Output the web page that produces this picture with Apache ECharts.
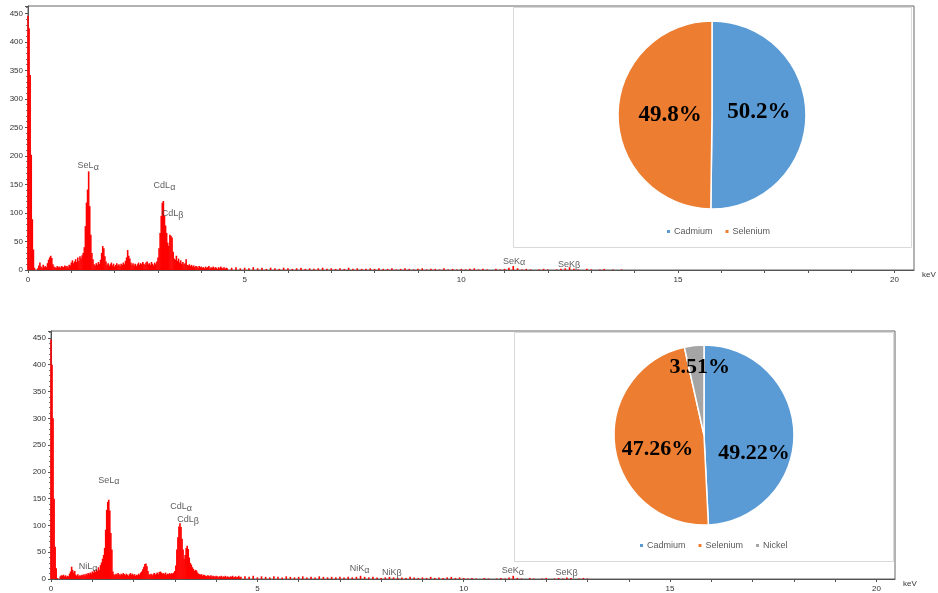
<!DOCTYPE html>
<html>
<head>
<meta charset="utf-8">
<title>EDS spectra</title>
<script src="https://cdn.jsdelivr.net/npm/echarts@6.0.0/dist/echarts.min.js"></script>
<style>
  html, body { margin: 0; padding: 0; background: #fff; }
  #chart { width: 938px; height: 593px; }
</style>
</head>
<body>
<div id="chart"></div>
<script>
// channel widths (keV)
var mainStep = 0.025
var tailStart = 4.7
var tailStep = 0.1

// counts, 0 - 4.6 keV, one value per 0.025 keV
var topMainCounts = [
  446, 424, 342, 202, 89, 36, 4, 0, 0, 3, 8, 13, 6, 4, 9, 5, 7, 5, 12, 18,
  22, 25, 21, 10, 6, 5, 4, 7, 5, 6, 4, 7, 6, 5, 8, 6, 7, 5, 9, 8,
  13, 17, 12, 15, 19, 14, 22, 16, 24, 20, 26, 30, 40, 77, 118, 141, 173, 112, 62, 30,
  19, 10, 8, 12, 9, 14, 11, 18, 30, 42, 38, 24, 15, 9, 12, 7, 10, 13, 8, 11,
  6, 9, 12, 8, 10, 7, 11, 9, 13, 10, 16, 22, 35, 25, 20, 13, 9, 12, 8, 11,
  7, 10, 13, 9, 12, 10, 14, 11, 9, 13, 15, 10, 12, 9, 14, 11, 8, 13, 10, 15,
  22, 38, 65, 95, 118, 121, 95, 78, 65, 48, 42, 62, 60, 57, 32, 20, 18, 25, 16, 20,
  13, 17, 11, 14, 10, 12, 19, 9, 8, 10, 7, 9, 6, 8, 5, 7, 6, 4, 7, 5,
  6, 4, 5, 3, 6, 4, 5, 7, 3, 5, 4, 6, 3, 5, 4, 2, 5, 3, 6, 4,
  3, 5, 2, 4, 3
]
// counts from 4.7 keV, one value per 0.1 keV
var topTailCounts = [
  4, 5, 3, 4, 3, 5, 3, 4, 2, 4,
  3, 2, 4, 3, 2, 3, 4, 2, 3, 2,
  3, 4, 2, 3, 2, 3, 2, 4, 2, 3,
  2, 2, 3, 2, 3, 2, 2, 3, 1, 2,
  3, 2, 1, 2, 3, 1, 2, 2, 1, 3,
  1, 2, 1, 2, 1, 2, 3, 1, 2, 1,
  0, 2, 1, 2, 4, 7, 3, 1, 2, 1,
  0, 1, 2, 1, 0, 1, 2, 3, 5, 2,
  1, 0, 2, 1, 0, 1, 2, 0, 1, 0,
  1
]

var bottomMainCounts = [
  447, 400, 300, 150, 60, 20, 2, 0, 0, 5, 7, 6, 8, 5, 7, 4, 6, 5, 10, 14,
  23, 17, 12, 15, 8, 6, 9, 5, 7, 6, 8, 7, 9, 6, 10, 8, 11, 9, 12, 10,
  14, 12, 16, 13, 18, 15, 22, 17, 26, 31, 38, 45, 58, 92, 129, 144, 148, 128, 86, 55,
  14, 9, 7, 10, 8, 11, 9, 7, 10, 8, 11, 9, 7, 10, 8, 6, 9, 11, 8, 10,
  7, 9, 6, 8, 7, 10, 8, 12, 14, 18, 23, 28, 29, 24, 15, 9, 8, 10, 7, 9,
  11, 8, 10, 12, 9, 13, 14, 12, 10, 11, 9, 12, 8, 10, 9, 11, 9, 11, 10, 12,
  15, 25, 55, 78, 98, 104, 97, 75, 55, 38, 45, 58, 62, 56, 40, 30, 27, 22, 19, 15,
  17, 16, 12, 10, 9, 8, 9, 6, 8, 7, 6, 5, 7, 6, 5, 7, 4, 6, 5, 4,
  6, 5, 3, 5, 4, 6, 3, 5, 4, 6, 3, 5, 4, 3, 5, 4, 6, 3, 4, 5,
  3, 4, 6, 3, 4
]
var bottomTailCounts = [
  5, 4, 6, 3, 5, 4, 3, 5, 4, 3,
  5, 4, 3, 4, 5, 3, 4, 3, 5, 4,
  3, 4, 3, 4, 3, 4, 3, 4, 6, 4,
  3, 4, 3, 2, 3, 4, 3, 2, 3, 2,
  4, 3, 2, 3, 2, 4, 2, 3, 2, 3,
  4, 2, 3, 2, 1, 2, 1, 0, 2, 1,
  0, 1, 2, 1, 3, 6, 2, 1, 0, 2,
  1, 0, 1, 2, 0, 1, 2, 1, 3, 2,
  0, 1, 2, 1
]

// peak annotations: line name, greek suffix, where the text sits (keV, counts)
var topPeakNames = ['SeL', 'CdL', 'CdL', 'SeK', 'SeK']
var topPeakGreek = ['α', 'α', 'β', 'α', 'β']
var topPeakKeV = [1.39, 3.15, 3.34, 11.22, 12.49]
var topPeakCounts = [183, 148, 99, 15, 10]

var bottomPeakNames = ['NiL', 'SeL', 'CdL', 'CdL', 'NiK', 'NiK', 'SeK', 'SeK']
var bottomPeakGreek = ['α', 'α', 'α', 'β', 'α', 'β', 'α', 'β']
var bottomPeakKeV = [0.9, 1.40, 3.15, 3.32, 7.48, 8.26, 11.19, 12.49]
var bottomPeakCounts = [23, 184, 135, 111, 19, 13, 15, 13]

// composition (%)
var topElements = ['Cadmium', 'Selenium']
var topPercent = [50.2, 49.8]
var bottomElements = ['Cadmium', 'Selenium', 'Nickel']
var bottomPercent = [49.22, 47.26, 3.51]

var xLabelTicks = [0, 5, 10, 15, 20]

var elementColors = { Cadmium: '#5b9bd5', Selenium: '#ed7d31', Nickel: '#a5a5a5' }
var sansFont = '"Liberation Sans", Arial, sans-serif'
var serifFont = '"Liberation Serif", "Times New Roman", serif'

function spectrum (main, tail) {
  var pts = []
  for (var i = 0; i < main.length; i++) {
    pts.push([+(i * mainStep).toFixed(3), main[i]])
  }
  for (var j = 0; j < tail.length; j++) {
    pts.push([+(tailStart + j * tailStep).toFixed(2), tail[j]])
  }
  return pts
}

function peaks (names, greek, kev, counts) {
  return names.map(function (n, i) {
    return { value: [kev[i], counts[i]], line: n, sub: greek[i] }
  })
}

function pieData (names, values) {
  return names.map(function (n, i) {
    return { name: n, value: values[i], itemStyle: { color: elementColors[n] } }
  })
}

function xAxisFor (gi) {
  return {
    type: 'value',
    gridIndex: gi,
    min: 0,
    max: 20.45,
    interval: 1,
    name: 'keV',
    nameLocation: 'end',
    nameGap: 8,
    nameTextStyle: { fontSize: 8, color: '#333', fontFamily: sansFont, verticalAlign: 'top', padding: [1, 0, 0, 0] },
    axisLine: { onZero: false, lineStyle: { color: '#555' } },
    axisTick: { length: 3, lineStyle: { color: '#555' } },
    axisLabel: {
      fontSize: 8,
      color: '#333',
      fontFamily: sansFont,
      margin: 6,
      showMaxLabel: false,
      formatter: function (v) { return xLabelTicks.indexOf(v) >= 0 ? String(v) : '' }
    },
    splitLine: { show: false }
  }
}

function yAxisFor (gi) {
  return {
    type: 'value',
    gridIndex: gi,
    min: 0,
    max: 463,
    interval: 50,
    axisLine: { show: true, lineStyle: { color: '#555' } },
    axisTick: { show: true, length: 3, lineStyle: { color: '#555' } },
    minorTick: { show: true, splitNumber: 5, length: 2, lineStyle: { color: '#777' } },
    axisLabel: { fontSize: 8, color: '#333', fontFamily: sansFont, margin: 5, showMaxLabel: false },
    splitLine: { show: false }
  }
}

function spectrumSeries (gi, data) {
  return {
    type: 'bar',
    xAxisIndex: gi,
    yAxisIndex: gi,
    barWidth: 1.6,
    silent: true,
    itemStyle: { color: '#ff0000' },
    data: data
  }
}

function peakSeries (gi, data) {
  return {
    type: 'scatter',
    xAxisIndex: gi,
    yAxisIndex: gi,
    symbolSize: 0,
    silent: true,
    z: 4,
    label: {
      show: true,
      position: 'inside',
      formatter: function (p) { return '{t|' + p.data.line + '}{g|' + p.data.sub + '}' },
      rich: {
        t: { fontSize: 9, color: '#333', fontFamily: sansFont },
        g: { fontSize: 9, color: '#333', fontFamily: sansFont, padding: [3, 0, 0, 0] }
      }
    },
    data: data
  }
}

// nudges so the percentages sit where the original put them
var topLabelShift = [[-3, -3], [8, 0]]
var bottomLabelShift = [[2, 19], [1, 8], [1, -20]]

function pieSeries (center, radius, data, shift, size) {
  return {
    type: 'pie',
    center: center,
    radius: radius,
    startAngle: 90,
    clockwise: true,
    z: 5,
    silent: true,
    avoidLabelOverlap: false,
    itemStyle: { borderColor: '#fff', borderWidth: 1.5 },
    label: {
      show: true,
      position: 'inside',
      formatter: '{c}%',
      fontFamily: serifFont,
      fontWeight: 'bold',
      fontSize: size,
      color: '#000'
    },
    labelLine: { show: false },
    labelLayout: function (p) {
      var s = shift[p.dataIndex]
      return { dx: s[0], dy: s[1] }
    },
    data: data
  }
}

function legendFor (names, left, top) {
  return {
    data: names,
    left: left,
    top: top,
    padding: 0,
    icon: 'rect',
    itemWidth: 5,
    itemHeight: 5,
    itemGap: 11,
    selectedMode: false,
    z: 6,
    textStyle: { fontSize: 9, color: '#595959', fontFamily: sansFont, padding: [0, 0, 0, -2] }
  }
}

var chart = echarts.init(document.getElementById('chart'))
chart.setOption({
  animation: false,
  backgroundColor: '#fff',
  textStyle: { fontFamily: sansFont },
  grid: [
    { left: 28, top: 6, width: 886, height: 264, show: true, borderColor: '#666', borderWidth: 1 },
    { left: 51, top: 331, width: 844, height: 251, show: true, borderColor: '#666', borderWidth: 1 }
  ],
  xAxis: [xAxisFor(0), xAxisFor(1)],
  yAxis: [yAxisFor(0), yAxisFor(1)],
  graphic: [
    { type: 'rect', z: 3, shape: { x: 513.5, y: 7.5, width: 398, height: 240 }, style: { fill: '#fff', stroke: '#d9d9d9', lineWidth: 1 } },
    { type: 'rect', z: 3, shape: { x: 514.5, y: 332.5, width: 379, height: 229 }, style: { fill: '#fff', stroke: '#d9d9d9', lineWidth: 1 } }
  ],
  legend: [
    legendFor(topElements, 665, 227),
    legendFor(bottomElements, 638, 541)
  ],
  series: [
    spectrumSeries(0, spectrum(topMainCounts, topTailCounts)),
    peakSeries(0, peaks(topPeakNames, topPeakGreek, topPeakKeV, topPeakCounts)),
    spectrumSeries(1, spectrum(bottomMainCounts, bottomTailCounts)),
    peakSeries(1, peaks(bottomPeakNames, bottomPeakGreek, bottomPeakKeV, bottomPeakCounts)),
    pieSeries([712, 115], 94, pieData(topElements, topPercent), topLabelShift, 23),
    pieSeries([704, 435], 90, pieData(bottomElements, bottomPercent), bottomLabelShift, 22)
  ]
})
</script>
</body>
</html>
